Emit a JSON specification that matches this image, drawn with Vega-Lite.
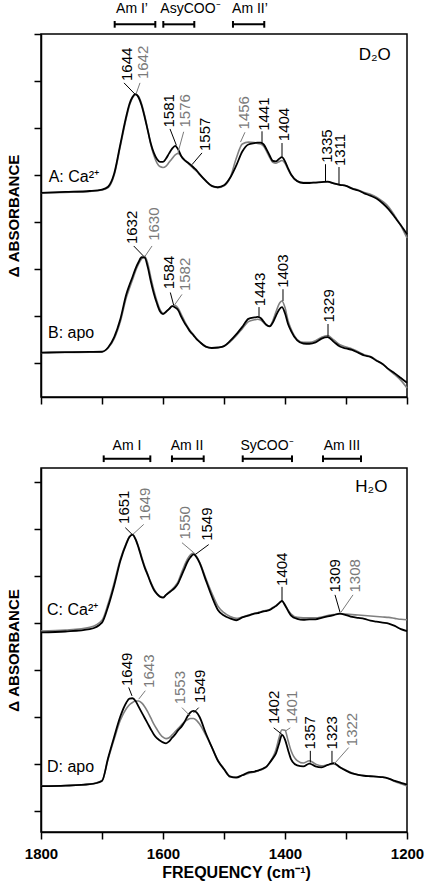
{
  "$schema": "https://vega.github.io/schema/vega-lite/v6.json",
  "padding": {"left": 5, "top": 1, "right": 3, "bottom": 5},
  "background": "white",
  "bounds": "flush",
  "spacing": 71,
  "config": {
    "font": "Liberation Sans",
    "view": {"stroke": "#000000", "strokeWidth": 1.5},
    "axis": {"grid": false, "domainColor": "#000000", "domainWidth": 1.5, "tickColor": "#000000", "tickWidth": 1.5, "tickSize": 7, "labelColor": "#000000", "titleColor": "#000000", "labelFont": "Liberation Sans", "titleFont": "Liberation Sans", "labelFontWeight": "bold", "titleFontWeight": "bold"}
  },
  "datasets": {
    "A_black": [{"f":1800,"v":4.62},{"f":1760,"v":4.64},{"f":1720,"v":4.66},{"f":1700,"v":4.69},{"f":1690,"v":4.75},{"f":1680,"v":5.03},{"f":1670,"v":5.65},{"f":1660,"v":6.26},{"f":1655,"v":6.51},{"f":1650,"v":6.66},{"f":1645,"v":6.72},{"f":1640,"v":6.65},{"f":1635,"v":6.48},{"f":1630,"v":6.23},{"f":1625,"v":5.95},{"f":1620,"v":5.67},{"f":1615,"v":5.47},{"f":1610,"v":5.34},{"f":1605,"v":5.28},{"f":1600,"v":5.28},{"f":1595,"v":5.35},{"f":1590,"v":5.46},{"f":1585,"v":5.56},{"f":1580,"v":5.62},{"f":1575,"v":5.54},{"f":1570,"v":5.40},{"f":1565,"v":5.32},{"f":1560,"v":5.27},{"f":1555,"v":5.22},{"f":1550,"v":5.16},{"f":1545,"v":5.10},{"f":1540,"v":5.02},{"f":1530,"v":4.88},{"f":1520,"v":4.77},{"f":1510,"v":4.74},{"f":1500,"v":4.78},{"f":1490,"v":4.94},{"f":1480,"v":5.20},{"f":1470,"v":5.50},{"f":1460,"v":5.65},{"f":1450,"v":5.68},{"f":1445,"v":5.69},{"f":1440,"v":5.69},{"f":1435,"v":5.65},{"f":1430,"v":5.54},{"f":1425,"v":5.41},{"f":1420,"v":5.30},{"f":1415,"v":5.29},{"f":1410,"v":5.34},{"f":1405,"v":5.38},{"f":1400,"v":5.29},{"f":1395,"v":5.14},{"f":1390,"v":5.01},{"f":1380,"v":4.87},{"f":1370,"v":4.83},{"f":1360,"v":4.83},{"f":1350,"v":4.84},{"f":1340,"v":4.85},{"f":1330,"v":4.86},{"f":1320,"v":4.82},{"f":1310,"v":4.79},{"f":1300,"v":4.77},{"f":1290,"v":4.71},{"f":1280,"v":4.67},{"f":1270,"v":4.61},{"f":1260,"v":4.56},{"f":1250,"v":4.50},{"f":1240,"v":4.40},{"f":1230,"v":4.27},{"f":1220,"v":4.10},{"f":1210,"v":3.93},{"f":1200,"v":3.74}],
    "A_grey": [{"f":1800,"v":4.62},{"f":1760,"v":4.63},{"f":1720,"v":4.65},{"f":1700,"v":4.68},{"f":1690,"v":4.73},{"f":1680,"v":5.00},{"f":1670,"v":5.61},{"f":1660,"v":6.22},{"f":1655,"v":6.48},{"f":1650,"v":6.64},{"f":1645,"v":6.71},{"f":1640,"v":6.67},{"f":1635,"v":6.51},{"f":1630,"v":6.26},{"f":1625,"v":5.96},{"f":1620,"v":5.65},{"f":1615,"v":5.42},{"f":1610,"v":5.26},{"f":1605,"v":5.18},{"f":1600,"v":5.16},{"f":1595,"v":5.19},{"f":1590,"v":5.27},{"f":1585,"v":5.35},{"f":1580,"v":5.43},{"f":1575,"v":5.46},{"f":1570,"v":5.40},{"f":1565,"v":5.32},{"f":1560,"v":5.26},{"f":1555,"v":5.20},{"f":1550,"v":5.14},{"f":1545,"v":5.08},{"f":1540,"v":5.01},{"f":1530,"v":4.87},{"f":1520,"v":4.76},{"f":1510,"v":4.73},{"f":1500,"v":4.77},{"f":1490,"v":4.94},{"f":1480,"v":5.35},{"f":1470,"v":5.66},{"f":1460,"v":5.70},{"f":1450,"v":5.69},{"f":1445,"v":5.67},{"f":1440,"v":5.66},{"f":1435,"v":5.61},{"f":1430,"v":5.50},{"f":1425,"v":5.37},{"f":1420,"v":5.27},{"f":1415,"v":5.25},{"f":1410,"v":5.28},{"f":1405,"v":5.31},{"f":1400,"v":5.25},{"f":1395,"v":5.12},{"f":1390,"v":5.00},{"f":1380,"v":4.87},{"f":1370,"v":4.84},{"f":1360,"v":4.84},{"f":1350,"v":4.84},{"f":1340,"v":4.85},{"f":1330,"v":4.85},{"f":1320,"v":4.82},{"f":1310,"v":4.79},{"f":1300,"v":4.77},{"f":1290,"v":4.72},{"f":1280,"v":4.68},{"f":1270,"v":4.63},{"f":1260,"v":4.59},{"f":1250,"v":4.53},{"f":1240,"v":4.44},{"f":1230,"v":4.32},{"f":1220,"v":4.13},{"f":1210,"v":3.92},{"f":1200,"v":3.66}],
    "B_black": [{"f":1800,"v":1.22},{"f":1760,"v":1.23},{"f":1720,"v":1.235},{"f":1700,"v":1.24},{"f":1690,"v":1.33},{"f":1680,"v":1.55},{"f":1670,"v":1.93},{"f":1660,"v":2.47},{"f":1655,"v":2.66},{"f":1650,"v":2.83},{"f":1645,"v":3.01},{"f":1640,"v":3.15},{"f":1635,"v":3.25},{"f":1630,"v":3.24},{"f":1625,"v":3.04},{"f":1620,"v":2.74},{"f":1615,"v":2.48},{"f":1610,"v":2.27},{"f":1605,"v":2.10},{"f":1600,"v":2.04},{"f":1595,"v":2.09},{"f":1590,"v":2.15},{"f":1585,"v":2.21},{"f":1580,"v":2.18},{"f":1575,"v":2.12},{"f":1570,"v":1.98},{"f":1565,"v":1.86},{"f":1560,"v":1.76},{"f":1555,"v":1.66},{"f":1550,"v":1.59},{"f":1545,"v":1.51},{"f":1540,"v":1.45},{"f":1530,"v":1.35},{"f":1520,"v":1.32},{"f":1510,"v":1.33},{"f":1500,"v":1.36},{"f":1490,"v":1.47},{"f":1480,"v":1.61},{"f":1470,"v":1.77},{"f":1460,"v":1.94},{"f":1450,"v":1.97},{"f":1445,"v":1.98},{"f":1440,"v":1.96},{"f":1435,"v":1.88},{"f":1430,"v":1.81},{"f":1425,"v":1.78},{"f":1420,"v":1.86},{"f":1415,"v":2.00},{"f":1410,"v":2.13},{"f":1405,"v":2.19},{"f":1400,"v":2.06},{"f":1395,"v":1.83},{"f":1390,"v":1.68},{"f":1380,"v":1.48},{"f":1370,"v":1.415},{"f":1360,"v":1.41},{"f":1350,"v":1.44},{"f":1340,"v":1.52},{"f":1330,"v":1.55},{"f":1320,"v":1.45},{"f":1310,"v":1.35},{"f":1300,"v":1.31},{"f":1290,"v":1.28},{"f":1280,"v":1.22},{"f":1270,"v":1.16},{"f":1260,"v":1.13},{"f":1250,"v":1.05},{"f":1240,"v":0.98},{"f":1230,"v":0.87},{"f":1220,"v":0.78},{"f":1210,"v":0.68},{"f":1200,"v":0.58}],
    "B_grey": [{"f":1800,"v":1.22},{"f":1760,"v":1.225},{"f":1720,"v":1.23},{"f":1700,"v":1.24},{"f":1690,"v":1.32},{"f":1680,"v":1.52},{"f":1670,"v":1.88},{"f":1660,"v":2.40},{"f":1655,"v":2.59},{"f":1650,"v":2.77},{"f":1645,"v":2.96},{"f":1640,"v":3.11},{"f":1635,"v":3.22},{"f":1630,"v":3.27},{"f":1625,"v":3.12},{"f":1620,"v":2.82},{"f":1615,"v":2.55},{"f":1610,"v":2.32},{"f":1605,"v":2.14},{"f":1600,"v":2.06},{"f":1595,"v":2.09},{"f":1590,"v":2.15},{"f":1585,"v":2.21},{"f":1580,"v":2.22},{"f":1575,"v":2.16},{"f":1570,"v":2.03},{"f":1565,"v":1.90},{"f":1560,"v":1.78},{"f":1555,"v":1.68},{"f":1550,"v":1.60},{"f":1545,"v":1.52},{"f":1540,"v":1.45},{"f":1530,"v":1.35},{"f":1520,"v":1.32},{"f":1510,"v":1.325},{"f":1500,"v":1.355},{"f":1490,"v":1.45},{"f":1480,"v":1.58},{"f":1470,"v":1.73},{"f":1460,"v":1.88},{"f":1450,"v":1.92},{"f":1445,"v":1.93},{"f":1440,"v":1.915},{"f":1435,"v":1.86},{"f":1430,"v":1.80},{"f":1425,"v":1.79},{"f":1420,"v":1.90},{"f":1415,"v":2.08},{"f":1410,"v":2.25},{"f":1405,"v":2.32},{"f":1400,"v":2.18},{"f":1395,"v":1.90},{"f":1390,"v":1.72},{"f":1380,"v":1.50},{"f":1370,"v":1.44},{"f":1360,"v":1.44},{"f":1350,"v":1.475},{"f":1340,"v":1.55},{"f":1330,"v":1.585},{"f":1320,"v":1.49},{"f":1310,"v":1.39},{"f":1300,"v":1.34},{"f":1290,"v":1.30},{"f":1280,"v":1.24},{"f":1270,"v":1.175},{"f":1260,"v":1.14},{"f":1250,"v":1.06},{"f":1240,"v":0.975},{"f":1230,"v":0.86},{"f":1220,"v":0.75},{"f":1210,"v":0.63},{"f":1200,"v":0.47}],
    "C_black": [{"f":1800,"v":4.80},{"f":1760,"v":4.82},{"f":1720,"v":4.87},{"f":1700,"v":5.01},{"f":1690,"v":5.35},{"f":1680,"v":5.80},{"f":1670,"v":6.32},{"f":1660,"v":6.69},{"f":1655,"v":6.83},{"f":1650,"v":6.88},{"f":1645,"v":6.78},{"f":1640,"v":6.60},{"f":1635,"v":6.38},{"f":1630,"v":6.18},{"f":1625,"v":6.02},{"f":1620,"v":5.85},{"f":1615,"v":5.71},{"f":1610,"v":5.62},{"f":1605,"v":5.56},{"f":1600,"v":5.54},{"f":1595,"v":5.60},{"f":1590,"v":5.65},{"f":1585,"v":5.70},{"f":1580,"v":5.76},{"f":1575,"v":5.85},{"f":1570,"v":6.00},{"f":1565,"v":6.15},{"f":1560,"v":6.30},{"f":1555,"v":6.40},{"f":1550,"v":6.46},{"f":1545,"v":6.40},{"f":1540,"v":6.28},{"f":1530,"v":5.92},{"f":1520,"v":5.57},{"f":1510,"v":5.28},{"f":1500,"v":5.16},{"f":1490,"v":5.10},{"f":1480,"v":5.06},{"f":1470,"v":5.12},{"f":1460,"v":5.16},{"f":1450,"v":5.20},{"f":1445,"v":5.21},{"f":1440,"v":5.23},{"f":1435,"v":5.25},{"f":1430,"v":5.26},{"f":1425,"v":5.28},{"f":1420,"v":5.32},{"f":1415,"v":5.36},{"f":1410,"v":5.42},{"f":1405,"v":5.47},{"f":1400,"v":5.38},{"f":1395,"v":5.26},{"f":1390,"v":5.16},{"f":1380,"v":5.09},{"f":1370,"v":5.07},{"f":1360,"v":5.08},{"f":1350,"v":5.08},{"f":1340,"v":5.11},{"f":1330,"v":5.14},{"f":1320,"v":5.17},{"f":1310,"v":5.20},{"f":1300,"v":5.17},{"f":1290,"v":5.13},{"f":1280,"v":5.11},{"f":1270,"v":5.09},{"f":1260,"v":5.05},{"f":1250,"v":5.03},{"f":1240,"v":5.01},{"f":1230,"v":4.99},{"f":1220,"v":4.94},{"f":1210,"v":4.87},{"f":1200,"v":4.83}],
    "C_grey": [{"f":1800,"v":4.83},{"f":1760,"v":4.85},{"f":1720,"v":4.91},{"f":1700,"v":5.06},{"f":1690,"v":5.41},{"f":1680,"v":5.86},{"f":1670,"v":6.36},{"f":1660,"v":6.71},{"f":1655,"v":6.84},{"f":1650,"v":6.88},{"f":1645,"v":6.79},{"f":1640,"v":6.62},{"f":1635,"v":6.41},{"f":1630,"v":6.21},{"f":1625,"v":6.04},{"f":1620,"v":5.87},{"f":1615,"v":5.73},{"f":1610,"v":5.63},{"f":1605,"v":5.57},{"f":1600,"v":5.55},{"f":1595,"v":5.60},{"f":1590,"v":5.66},{"f":1585,"v":5.72},{"f":1580,"v":5.79},{"f":1575,"v":5.89},{"f":1570,"v":6.06},{"f":1565,"v":6.22},{"f":1560,"v":6.36},{"f":1555,"v":6.45},{"f":1550,"v":6.49},{"f":1545,"v":6.42},{"f":1540,"v":6.30},{"f":1530,"v":5.96},{"f":1520,"v":5.64},{"f":1510,"v":5.36},{"f":1500,"v":5.22},{"f":1490,"v":5.14},{"f":1480,"v":5.10},{"f":1470,"v":5.13},{"f":1460,"v":5.17},{"f":1450,"v":5.21},{"f":1445,"v":5.22},{"f":1440,"v":5.24},{"f":1435,"v":5.26},{"f":1430,"v":5.27},{"f":1425,"v":5.29},{"f":1420,"v":5.33},{"f":1415,"v":5.37},{"f":1410,"v":5.42},{"f":1405,"v":5.46},{"f":1400,"v":5.39},{"f":1395,"v":5.28},{"f":1390,"v":5.19},{"f":1380,"v":5.12},{"f":1370,"v":5.11},{"f":1360,"v":5.11},{"f":1350,"v":5.11},{"f":1340,"v":5.13},{"f":1330,"v":5.16},{"f":1320,"v":5.18},{"f":1310,"v":5.20},{"f":1300,"v":5.19},{"f":1290,"v":5.18},{"f":1280,"v":5.17},{"f":1270,"v":5.16},{"f":1260,"v":5.15},{"f":1250,"v":5.14},{"f":1240,"v":5.13},{"f":1230,"v":5.12},{"f":1220,"v":5.10},{"f":1210,"v":5.08},{"f":1200,"v":5.07}],
    "D_black": [{"f":1800,"v":1.53},{"f":1760,"v":1.54},{"f":1720,"v":1.57},{"f":1700,"v":1.64},{"f":1690,"v":2.13},{"f":1680,"v":2.58},{"f":1670,"v":3.01},{"f":1660,"v":3.31},{"f":1655,"v":3.39},{"f":1650,"v":3.40},{"f":1645,"v":3.34},{"f":1640,"v":3.22},{"f":1635,"v":3.10},{"f":1630,"v":2.98},{"f":1625,"v":2.86},{"f":1620,"v":2.74},{"f":1615,"v":2.63},{"f":1610,"v":2.55},{"f":1605,"v":2.50},{"f":1600,"v":2.46},{"f":1595,"v":2.44},{"f":1590,"v":2.48},{"f":1585,"v":2.56},{"f":1580,"v":2.63},{"f":1575,"v":2.72},{"f":1570,"v":2.79},{"f":1565,"v":2.89},{"f":1560,"v":3.01},{"f":1555,"v":3.10},{"f":1550,"v":3.13},{"f":1545,"v":3.10},{"f":1540,"v":3.00},{"f":1530,"v":2.66},{"f":1520,"v":2.36},{"f":1510,"v":2.07},{"f":1500,"v":1.89},{"f":1490,"v":1.73},{"f":1480,"v":1.71},{"f":1470,"v":1.76},{"f":1460,"v":1.82},{"f":1450,"v":1.84},{"f":1445,"v":1.86},{"f":1440,"v":1.88},{"f":1435,"v":1.91},{"f":1430,"v":1.95},{"f":1425,"v":2.03},{"f":1420,"v":2.12},{"f":1415,"v":2.22},{"f":1410,"v":2.42},{"f":1405,"v":2.62},{"f":1400,"v":2.52},{"f":1395,"v":2.30},{"f":1390,"v":2.10},{"f":1380,"v":1.97},{"f":1370,"v":1.95},{"f":1360,"v":2.01},{"f":1350,"v":1.95},{"f":1340,"v":1.93},{"f":1330,"v":1.98},{"f":1320,"v":2.02},{"f":1310,"v":1.93},{"f":1300,"v":1.86},{"f":1290,"v":1.80},{"f":1280,"v":1.77},{"f":1270,"v":1.75},{"f":1260,"v":1.74},{"f":1250,"v":1.73},{"f":1240,"v":1.72},{"f":1230,"v":1.69},{"f":1220,"v":1.64},{"f":1210,"v":1.60},{"f":1200,"v":1.56}],
    "D_grey": [{"f":1800,"v":1.53},{"f":1760,"v":1.54},{"f":1720,"v":1.57},{"f":1700,"v":1.65},{"f":1690,"v":2.10},{"f":1680,"v":2.53},{"f":1670,"v":2.93},{"f":1660,"v":3.18},{"f":1655,"v":3.26},{"f":1650,"v":3.31},{"f":1645,"v":3.34},{"f":1640,"v":3.34},{"f":1635,"v":3.30},{"f":1630,"v":3.22},{"f":1625,"v":3.11},{"f":1620,"v":2.98},{"f":1615,"v":2.85},{"f":1610,"v":2.74},{"f":1605,"v":2.64},{"f":1600,"v":2.57},{"f":1595,"v":2.54},{"f":1590,"v":2.56},{"f":1585,"v":2.62},{"f":1580,"v":2.69},{"f":1575,"v":2.76},{"f":1570,"v":2.83},{"f":1565,"v":2.89},{"f":1560,"v":2.94},{"f":1555,"v":2.97},{"f":1550,"v":2.97},{"f":1545,"v":2.93},{"f":1540,"v":2.85},{"f":1530,"v":2.62},{"f":1520,"v":2.36},{"f":1510,"v":2.08},{"f":1500,"v":1.90},{"f":1490,"v":1.74},{"f":1480,"v":1.72},{"f":1470,"v":1.76},{"f":1460,"v":1.80},{"f":1450,"v":1.83},{"f":1445,"v":1.85},{"f":1440,"v":1.87},{"f":1435,"v":1.90},{"f":1430,"v":1.94},{"f":1425,"v":2.03},{"f":1420,"v":2.14},{"f":1415,"v":2.30},{"f":1410,"v":2.55},{"f":1405,"v":2.73},{"f":1400,"v":2.72},{"f":1395,"v":2.50},{"f":1390,"v":2.28},{"f":1380,"v":2.07},{"f":1370,"v":2.02},{"f":1360,"v":2.07},{"f":1350,"v":2.00},{"f":1340,"v":1.96},{"f":1330,"v":1.98},{"f":1320,"v":2.00},{"f":1310,"v":1.93},{"f":1300,"v":1.87},{"f":1290,"v":1.81},{"f":1280,"v":1.77},{"f":1270,"v":1.75},{"f":1260,"v":1.74},{"f":1250,"v":1.73},{"f":1240,"v":1.72},{"f":1230,"v":1.69},{"f":1220,"v":1.63},{"f":1210,"v":1.58},{"f":1200,"v":1.53}],
    "peaks_top": [
      {"t":"1644","c":"black","f":1659.0,"v":7.00,"f1":1663.9,"v1":6.96,"f2":1645.9,"v2":6.72},
      {"t":"1642","c":"grey","f":1632.8,"v":7.04,"f1":1637.7,"v1":6.96,"f2":1644.3,"v2":6.72},
      {"t":"1581","c":"black","f":1590.7,"v":6.01,"f1":1588.5,"v1":5.98,"f2":1578.0,"v2":5.63},
      {"t":"1576","c":"grey","f":1563.4,"v":6.01,"f1":1566.1,"v1":5.92,"f2":1575.4,"v2":5.48},
      {"t":"1557","c":"black","f":1530.7,"v":5.51,"f1":1536.1,"v1":5.47,"f2":1552.5,"v2":5.22},
      {"t":"1456","c":"grey","f":1467.7,"v":5.97,"f1":1465.6,"v1":5.91,"f2":1473.0,"v2":5.70},
      {"t":"1441","c":"black","f":1434.9,"v":5.94,"f1":1437.7,"v1":5.93,"f2":1437.7,"v2":5.69},
      {"t":"1404","c":"black","f":1402.1,"v":5.72,"f1":1404.9,"v1":5.68,"f2":1404.9,"v2":5.39},
      {"t":"1335","c":"black","f":1331.1,"v":5.26,"f1":1333.6,"v1":5.23,"f2":1333.6,"v2":4.87},
      {"t":"1311","c":"black","f":1309.3,"v":5.19,"f1":1311.5,"v1":5.17,"f2":1311.5,"v2":4.80},
      {"t":"1632","c":"black","f":1650.8,"v":3.53,"f1":1648.0,"v1":3.49,"f2":1631.6,"v2":3.27},
      {"t":"1630","c":"grey","f":1615.2,"v":3.60,"f1":1618.0,"v1":3.49,"f2":1629.5,"v2":3.27},
      {"t":"1584","c":"black","f":1590.7,"v":2.57,"f1":1588.0,"v1":2.50,"f2":1582.5,"v2":2.23},
      {"t":"1582","c":"grey","f":1563.4,"v":2.53,"f1":1568.9,"v1":2.46,"f2":1581.9,"v2":2.22},
      {"t":"1443","c":"black","f":1441.8,"v":2.21,"f1":1442.6,"v1":2.19,"f2":1442.6,"v2":1.99},
      {"t":"1403","c":"black","f":1403.3,"v":2.60,"f1":1403.3,"v1":2.57,"f2":1403.3,"v2":2.32},
      {"t":"1329","c":"black","f":1327.9,"v":1.86,"f1":1329.5,"v1":1.83,"f2":1329.5,"v2":1.56}
    ],
    "peaks_bottom": [
      {"t":"1651","c":"black","f":1664.4,"v":7.11,"f1":1661.8,"v1":7.03,"f2":1650.8,"v2":6.89},
      {"t":"1649","c":"grey","f":1629.0,"v":7.17,"f1":1631.6,"v1":7.10,"f2":1649.2,"v2":6.89},
      {"t":"1550","c":"grey","f":1563.4,"v":6.78,"f1":1568.9,"v1":6.71,"f2":1549.7,"v2":6.50},
      {"t":"1549","c":"black","f":1527.9,"v":6.75,"f1":1525.1,"v1":6.67,"f2":1547.0,"v2":6.46},
      {"t":"1404","c":"black","f":1404.9,"v":5.79,"f1":1404.9,"v1":5.77,"f2":1404.9,"v2":5.47},
      {"t":"1309","c":"black","f":1318.0,"v":5.65,"f1":1318.0,"v1":5.60,"f2":1309.8,"v2":5.23},
      {"t":"1308","c":"grey","f":1285.2,"v":5.65,"f1":1288.5,"v1":5.60,"f2":1308.2,"v2":5.23},
      {"t":"1649","c":"black","f":1659.0,"v":3.66,"f1":1656.2,"v1":3.63,"f2":1650.8,"v2":3.45},
      {"t":"1643","c":"grey","f":1623.4,"v":3.62,"f1":1629.0,"v1":3.56,"f2":1639.8,"v2":3.38},
      {"t":"1553","c":"grey","f":1571.6,"v":3.27,"f1":1568.9,"v1":3.20,"f2":1555.2,"v2":3.02},
      {"t":"1549","c":"black","f":1538.9,"v":3.30,"f1":1541.5,"v1":3.20,"f2":1549.7,"v2":3.09},
      {"t":"1402","c":"black","f":1418.5,"v":2.85,"f1":1418.5,"v1":2.77,"f2":1404.9,"v2":2.63},
      {"t":"1401","c":"grey","f":1388.5,"v":2.85,"f1":1391.3,"v1":2.77,"f2":1399.5,"v2":2.70},
      {"t":"1357","c":"black","f":1358.5,"v":2.31,"f1":1358.5,"v1":2.28,"f2":1358.5,"v2":2.03},
      {"t":"1323","c":"black","f":1323.0,"v":2.31,"f1":1323.0,"v1":2.28,"f2":1323.0,"v2":2.03},
      {"t":"1322","c":"grey","f":1290.2,"v":2.38,"f1":1295.6,"v1":2.35,"f2":1320.2,"v2":1.99}
    ],
    "bands_top": [
      {"t":"Am I’","f1":1679.2,"f2":1612.6,"fm":1650.8,"vb":8.206,"vlo":8.134,"vhi":8.277,"vt":8.532},
      {"t":"AsyCOO⁻","f1":1599.5,"f2":1548.7,"fm":1555.0,"vb":8.206,"vlo":8.134,"vhi":8.277,"vt":8.532},
      {"t":"Am II’","f1":1485.3,"f2":1434.0,"fm":1457.4,"vb":8.206,"vlo":8.134,"vhi":8.277,"vt":8.532}
    ],
    "bands_bottom": [
      {"t":"Am I","f1":1697.2,"f2":1620.8,"fm":1659.0,"vb":8.496,"vlo":8.426,"vhi":8.568,"vt":8.766},
      {"t":"Am II","f1":1585.3,"f2":1533.3,"fm":1560.7,"vb":8.496,"vlo":8.426,"vhi":8.568,"vt":8.766},
      {"t":"SyCOO⁻","f1":1469.3,"f2":1388.5,"fm":1429.5,"vb":8.496,"vlo":8.426,"vhi":8.568,"vt":8.766},
      {"t":"Am III","f1":1337.7,"f2":1275.4,"fm":1306.6,"vb":8.496,"vlo":8.426,"vhi":8.568,"vt":8.766}
    ],
    "samples_top": [{"t":"A: Ca²⁺","f":1787.4,"v":4.96},{"t":"B: apo","f":1788.5,"v":1.63}],
    "samples_bottom": [{"t":"C: Ca²⁺","f":1790.2,"v":5.28},{"t":"D: apo","f":1790.2,"v":1.94}],
    "solvent_top": [{"t":"D₂O","f":1279.2,"v":7.56}],
    "solvent_bottom": [{"t":"H₂O","f":1284.8,"v":7.90}]
  },
  "vconcat": [
    {
      "width": 366,
      "height": 363,
      "layer": [
        {
          "data": {"name": "A_grey"},
          "mark": {"type": "line", "color": "#808080", "strokeWidth": 1.6, "interpolate": "monotone"},
          "encoding": {
            "x": {"field": "f", "type": "quantitative", "scale": {"domain": [1200, 1800], "reverse": true, "nice": false, "zero": false}, "axis": {"values": [1200, 1300, 1400, 1500, 1600, 1700, 1800], "labels": false, "title": null}},
            "y": {"field": "v", "type": "quantitative", "scale": {"domain": [0.277, 8], "nice": false, "zero": false}, "axis": {"values": [1, 2, 3, 4, 5, 6, 7, 8], "labels": false, "title": "Δ ABSORBANCE", "titleFontSize": 15, "titlePadding": 12}}
          }
        },
        {
          "data": {"name": "B_grey"},
          "mark": {"type": "line", "color": "#808080", "strokeWidth": 1.6, "interpolate": "monotone"},
          "encoding": {
            "x": {"field": "f", "type": "quantitative"},
            "y": {"field": "v", "type": "quantitative"}
          }
        },
        {
          "data": {"name": "A_black"},
          "mark": {"type": "line", "color": "#000000", "strokeWidth": 1.8, "interpolate": "monotone"},
          "encoding": {
            "x": {"field": "f", "type": "quantitative"},
            "y": {"field": "v", "type": "quantitative"}
          }
        },
        {
          "data": {"name": "B_black"},
          "mark": {"type": "line", "color": "#000000", "strokeWidth": 1.8, "interpolate": "monotone"},
          "encoding": {
            "x": {"field": "f", "type": "quantitative"},
            "y": {"field": "v", "type": "quantitative"}
          }
        },
        {
          "data": {"name": "peaks_top"},
          "mark": {"type": "rule", "strokeWidth": 1},
          "encoding": {
            "x": {"field": "f1", "type": "quantitative"},
            "y": {"field": "v1", "type": "quantitative"},
            "x2": {"field": "f2"},
            "y2": {"field": "v2"},
            "color": {"field": "c", "type": "nominal", "scale": {"domain": ["black", "grey"], "range": ["#000000", "#7a7a7a"]}, "legend": null}
          }
        },
        {
          "data": {"name": "peaks_top"},
          "mark": {"type": "text", "angle": 270, "align": "left", "baseline": "middle", "fontSize": 15, "font": "Liberation Sans"},
          "encoding": {
            "x": {"field": "f", "type": "quantitative"},
            "y": {"field": "v", "type": "quantitative"},
            "text": {"field": "t"},
            "color": {"field": "c", "type": "nominal", "scale": {"domain": ["black", "grey"], "range": ["#000000", "#7a7a7a"]}, "legend": null}
          }
        },
        {
          "data": {"name": "bands_top"},
          "mark": {"type": "rule", "strokeWidth": 2, "color": "#000000"},
          "encoding": {
            "x": {"field": "f1", "type": "quantitative"},
            "x2": {"field": "f2"},
            "y": {"field": "vb", "type": "quantitative"}
          }
        },
        {
          "data": {"name": "bands_top"},
          "mark": {"type": "rule", "strokeWidth": 2, "color": "#000000"},
          "encoding": {
            "x": {"field": "f1", "type": "quantitative"},
            "y": {"field": "vlo", "type": "quantitative"},
            "y2": {"field": "vhi"}
          }
        },
        {
          "data": {"name": "bands_top"},
          "mark": {"type": "rule", "strokeWidth": 2, "color": "#000000"},
          "encoding": {
            "x": {"field": "f2", "type": "quantitative"},
            "y": {"field": "vlo", "type": "quantitative"},
            "y2": {"field": "vhi"}
          }
        },
        {
          "data": {"name": "bands_top"},
          "mark": {"type": "text", "align": "center", "baseline": "middle", "fontSize": 14, "color": "#000000", "font": "Liberation Sans"},
          "encoding": {
            "x": {"field": "fm", "type": "quantitative"},
            "y": {"field": "vt", "type": "quantitative"},
            "text": {"field": "t"}
          }
        },
        {
          "data": {"name": "samples_top"},
          "mark": {"type": "text", "align": "left", "baseline": "middle", "fontSize": 16, "color": "#000000", "font": "Liberation Sans"},
          "encoding": {
            "x": {"field": "f", "type": "quantitative"},
            "y": {"field": "v", "type": "quantitative"},
            "text": {"field": "t"}
          }
        },
        {
          "data": {"name": "solvent_top"},
          "mark": {"type": "text", "align": "left", "baseline": "middle", "fontSize": 17, "color": "#000000", "font": "Liberation Sans"},
          "encoding": {
            "x": {"field": "f", "type": "quantitative"},
            "y": {"field": "v", "type": "quantitative"},
            "text": {"field": "t"}
          }
        }
      ]
    },
    {
      "width": 366,
      "height": 364,
      "layer": [
        {
          "data": {"name": "C_grey"},
          "mark": {"type": "line", "color": "#808080", "strokeWidth": 1.6, "interpolate": "monotone"},
          "encoding": {
            "x": {"field": "f", "type": "quantitative", "scale": {"domain": [1200, 1800], "reverse": true, "nice": false, "zero": false}, "axis": {"values": [1200, 1300, 1400, 1500, 1600, 1700, 1800], "format": "d", "labelExpr": "datum.value % 200 === 0 ? datum.label : ''", "labelFontSize": 15, "labelPadding": 7, "labelFlush": false, "labelOverlap": false, "title": "FREQUENCY (cm⁻¹)", "titleFontSize": 16, "titlePadding": 3, "titleX": 195}},
            "y": {"field": "v", "type": "quantitative", "scale": {"domain": [0.553, 8.3], "nice": false, "zero": false}, "axis": {"values": [1, 2, 3, 4, 5, 6, 7, 8], "labels": false, "title": "Δ ABSORBANCE", "titleFontSize": 15, "titlePadding": 12}}
          }
        },
        {
          "data": {"name": "D_grey"},
          "mark": {"type": "line", "color": "#808080", "strokeWidth": 1.6, "interpolate": "monotone"},
          "encoding": {
            "x": {"field": "f", "type": "quantitative"},
            "y": {"field": "v", "type": "quantitative"}
          }
        },
        {
          "data": {"name": "C_black"},
          "mark": {"type": "line", "color": "#000000", "strokeWidth": 1.8, "interpolate": "monotone"},
          "encoding": {
            "x": {"field": "f", "type": "quantitative"},
            "y": {"field": "v", "type": "quantitative"}
          }
        },
        {
          "data": {"name": "D_black"},
          "mark": {"type": "line", "color": "#000000", "strokeWidth": 1.8, "interpolate": "monotone"},
          "encoding": {
            "x": {"field": "f", "type": "quantitative"},
            "y": {"field": "v", "type": "quantitative"}
          }
        },
        {
          "data": {"name": "peaks_bottom"},
          "mark": {"type": "rule", "strokeWidth": 1},
          "encoding": {
            "x": {"field": "f1", "type": "quantitative"},
            "y": {"field": "v1", "type": "quantitative"},
            "x2": {"field": "f2"},
            "y2": {"field": "v2"},
            "color": {"field": "c", "type": "nominal", "scale": {"domain": ["black", "grey"], "range": ["#000000", "#7a7a7a"]}, "legend": null}
          }
        },
        {
          "data": {"name": "peaks_bottom"},
          "mark": {"type": "text", "angle": 270, "align": "left", "baseline": "middle", "fontSize": 15, "font": "Liberation Sans"},
          "encoding": {
            "x": {"field": "f", "type": "quantitative"},
            "y": {"field": "v", "type": "quantitative"},
            "text": {"field": "t"},
            "color": {"field": "c", "type": "nominal", "scale": {"domain": ["black", "grey"], "range": ["#000000", "#7a7a7a"]}, "legend": null}
          }
        },
        {
          "data": {"name": "bands_bottom"},
          "mark": {"type": "rule", "strokeWidth": 2, "color": "#000000"},
          "encoding": {
            "x": {"field": "f1", "type": "quantitative"},
            "x2": {"field": "f2"},
            "y": {"field": "vb", "type": "quantitative"}
          }
        },
        {
          "data": {"name": "bands_bottom"},
          "mark": {"type": "rule", "strokeWidth": 2, "color": "#000000"},
          "encoding": {
            "x": {"field": "f1", "type": "quantitative"},
            "y": {"field": "vlo", "type": "quantitative"},
            "y2": {"field": "vhi"}
          }
        },
        {
          "data": {"name": "bands_bottom"},
          "mark": {"type": "rule", "strokeWidth": 2, "color": "#000000"},
          "encoding": {
            "x": {"field": "f2", "type": "quantitative"},
            "y": {"field": "vlo", "type": "quantitative"},
            "y2": {"field": "vhi"}
          }
        },
        {
          "data": {"name": "bands_bottom"},
          "mark": {"type": "text", "align": "center", "baseline": "middle", "fontSize": 14, "color": "#000000", "font": "Liberation Sans"},
          "encoding": {
            "x": {"field": "fm", "type": "quantitative"},
            "y": {"field": "vt", "type": "quantitative"},
            "text": {"field": "t"}
          }
        },
        {
          "data": {"name": "samples_bottom"},
          "mark": {"type": "text", "align": "left", "baseline": "middle", "fontSize": 16, "color": "#000000", "font": "Liberation Sans"},
          "encoding": {
            "x": {"field": "f", "type": "quantitative"},
            "y": {"field": "v", "type": "quantitative"},
            "text": {"field": "t"}
          }
        },
        {
          "data": {"name": "solvent_bottom"},
          "mark": {"type": "text", "align": "left", "baseline": "middle", "fontSize": 17, "color": "#000000", "font": "Liberation Sans"},
          "encoding": {
            "x": {"field": "f", "type": "quantitative"},
            "y": {"field": "v", "type": "quantitative"},
            "text": {"field": "t"}
          }
        }
      ]
    }
  ]
}
